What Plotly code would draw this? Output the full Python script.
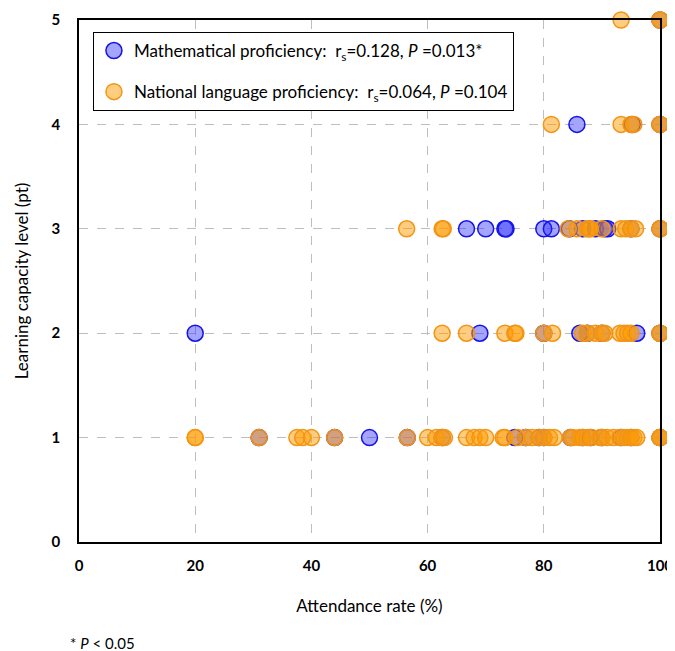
import plotly.graph_objects as go

# Mathematical proficiency (blue)
math_x = [100,
          85.7, 95.2, 100,
          66.7, 70.0, 73.3, 73.5, 80.0, 81.3, 84.4, 86.7, 88.9, 90.5, 91.0, 95.0, 100,
          20.0, 69.0, 80.0, 86.2, 87.5, 90.0, 96.0, 100,
          31.0, 44.0, 50.0, 56.5, 62.5, 75.0, 76.9, 79.2, 80.0, 84.6, 86.7, 88.0, 90.0, 93.3, 95.0, 100]
math_y = [5,
          4, 4, 4,
          3, 3, 3, 3, 3, 3, 3, 3, 3, 3, 3, 3, 3,
          2, 2, 2, 2, 2, 2, 2, 2,
          1, 1, 1, 1, 1, 1, 1, 1, 1, 1, 1, 1, 1, 1, 1, 1]

# National language proficiency (orange)
lang_x = [93.3, 100, 100,
          81.3, 93.3, 95.0, 95.5, 100, 100,
          56.4, 62.5, 62.7, 84.2, 85.7, 87.5, 87.8, 88.0, 90.0, 93.3, 94.1, 95.0, 95.8, 100, 100,
          62.5, 66.7, 73.3, 75.0, 75.2, 80.0, 81.5, 86.7, 87.5, 88.9, 90.0, 90.5, 93.1, 93.8, 94.4, 95.0, 100, 100,
          20.0, 20.0, 31.0, 37.5, 38.5, 40.0, 44.0, 56.5, 60.0, 61.5, 62.5, 62.9, 66.7, 68.0, 69.0, 70.0,
          73.0, 73.3, 75.5, 76.9, 78.0, 79.2, 80.0, 81.0, 81.8, 84.6, 85.0, 86.2, 86.7, 87.5, 88.2,
          89.7, 90.0, 90.9, 92.0, 93.1, 93.8, 94.4, 95.0, 95.5, 96.0, 100, 100, 100]
lang_y = [5, 5, 5,
          4, 4, 4, 4, 4, 4,
          3, 3, 3, 3, 3, 3, 3, 3, 3, 3, 3, 3, 3, 3, 3,
          2, 2, 2, 2, 2, 2, 2, 2, 2, 2, 2, 2, 2, 2, 2, 2, 2, 2,
          1, 1, 1, 1, 1, 1, 1, 1, 1, 1, 1, 1, 1, 1, 1, 1,
          1, 1, 1, 1, 1, 1, 1, 1, 1, 1, 1, 1, 1, 1, 1,
          1, 1, 1, 1, 1, 1, 1, 1, 1, 1, 1, 1, 1]

x_ticks = [0, 20, 40, 60, 80, 100]
y_ticks = [0, 1, 2, 3, 4, 5]

math_label = "Mathematical proficiency:  r<sub>s</sub>=0.128, <i>P</i> =0.013*"
lang_label = "National language proficiency:  r<sub>s</sub>=0.064, <i>P</i> =0.104"

FONT = "Lato, 'Open Sans', sans-serif"

fig = go.Figure()
fig.add_trace(go.Scatter(
    x=math_x, y=math_y, mode="markers", name=math_label, legendgroup="a",
    cliponaxis=False,
    marker=dict(size=16, color="rgba(40,40,255,0.42)",
                line=dict(color="rgb(20,20,230)", width=1.5)),
))
fig.add_trace(go.Scatter(
    x=lang_x, y=lang_y, mode="markers", name=lang_label, legendgroup="b",
    cliponaxis=False,
    marker=dict(size=16, color="rgba(255,155,0,0.5)",
                line=dict(color="rgb(242,148,20)", width=1.5)),
))

axis_common = dict(
    showgrid=True, gridcolor="rgb(190,190,190)", griddash="dash", gridwidth=1,
    showline=True, linecolor="black", linewidth=1.5, mirror=True,
    zeroline=False, ticks="", automargin=False,
    tickfont=dict(family=FONT, size=15, color="black", weight="bold"),
)

fig.update_layout(
    width=667, height=643,
    margin=dict(l=71, r=15, t=12, b=109),
    paper_bgcolor="white", plot_bgcolor="white",
    font=dict(family=FONT, color="black"),
    xaxis=dict(range=[0, 100], tickvals=x_ticks, ticklabelstandoff=9,
               title=dict(text="Attendance rate (%)", font=dict(size=17), standoff=27),
               **axis_common),
    yaxis=dict(range=[0, 5], tickvals=y_ticks, ticklabelstandoff=14,
               title=dict(text="Learning capacity level (pt)", font=dict(size=17), standoff=19),
               **axis_common),
    legend=dict(x=0.024, y=0.977, xanchor="left", yanchor="top",
                bgcolor="white", bordercolor="black", borderwidth=1,
                font=dict(size=17, family=FONT), tracegroupgap=16,
                traceorder="grouped"),
    annotations=[dict(text="* <i>P</i> < 0.05", xref="paper", yref="paper",
                      x=-0.019, y=-0.193, xanchor="left", yanchor="middle",
                      showarrow=False, font=dict(size=15, family=FONT))],
)

fig.write_html("out.html")
